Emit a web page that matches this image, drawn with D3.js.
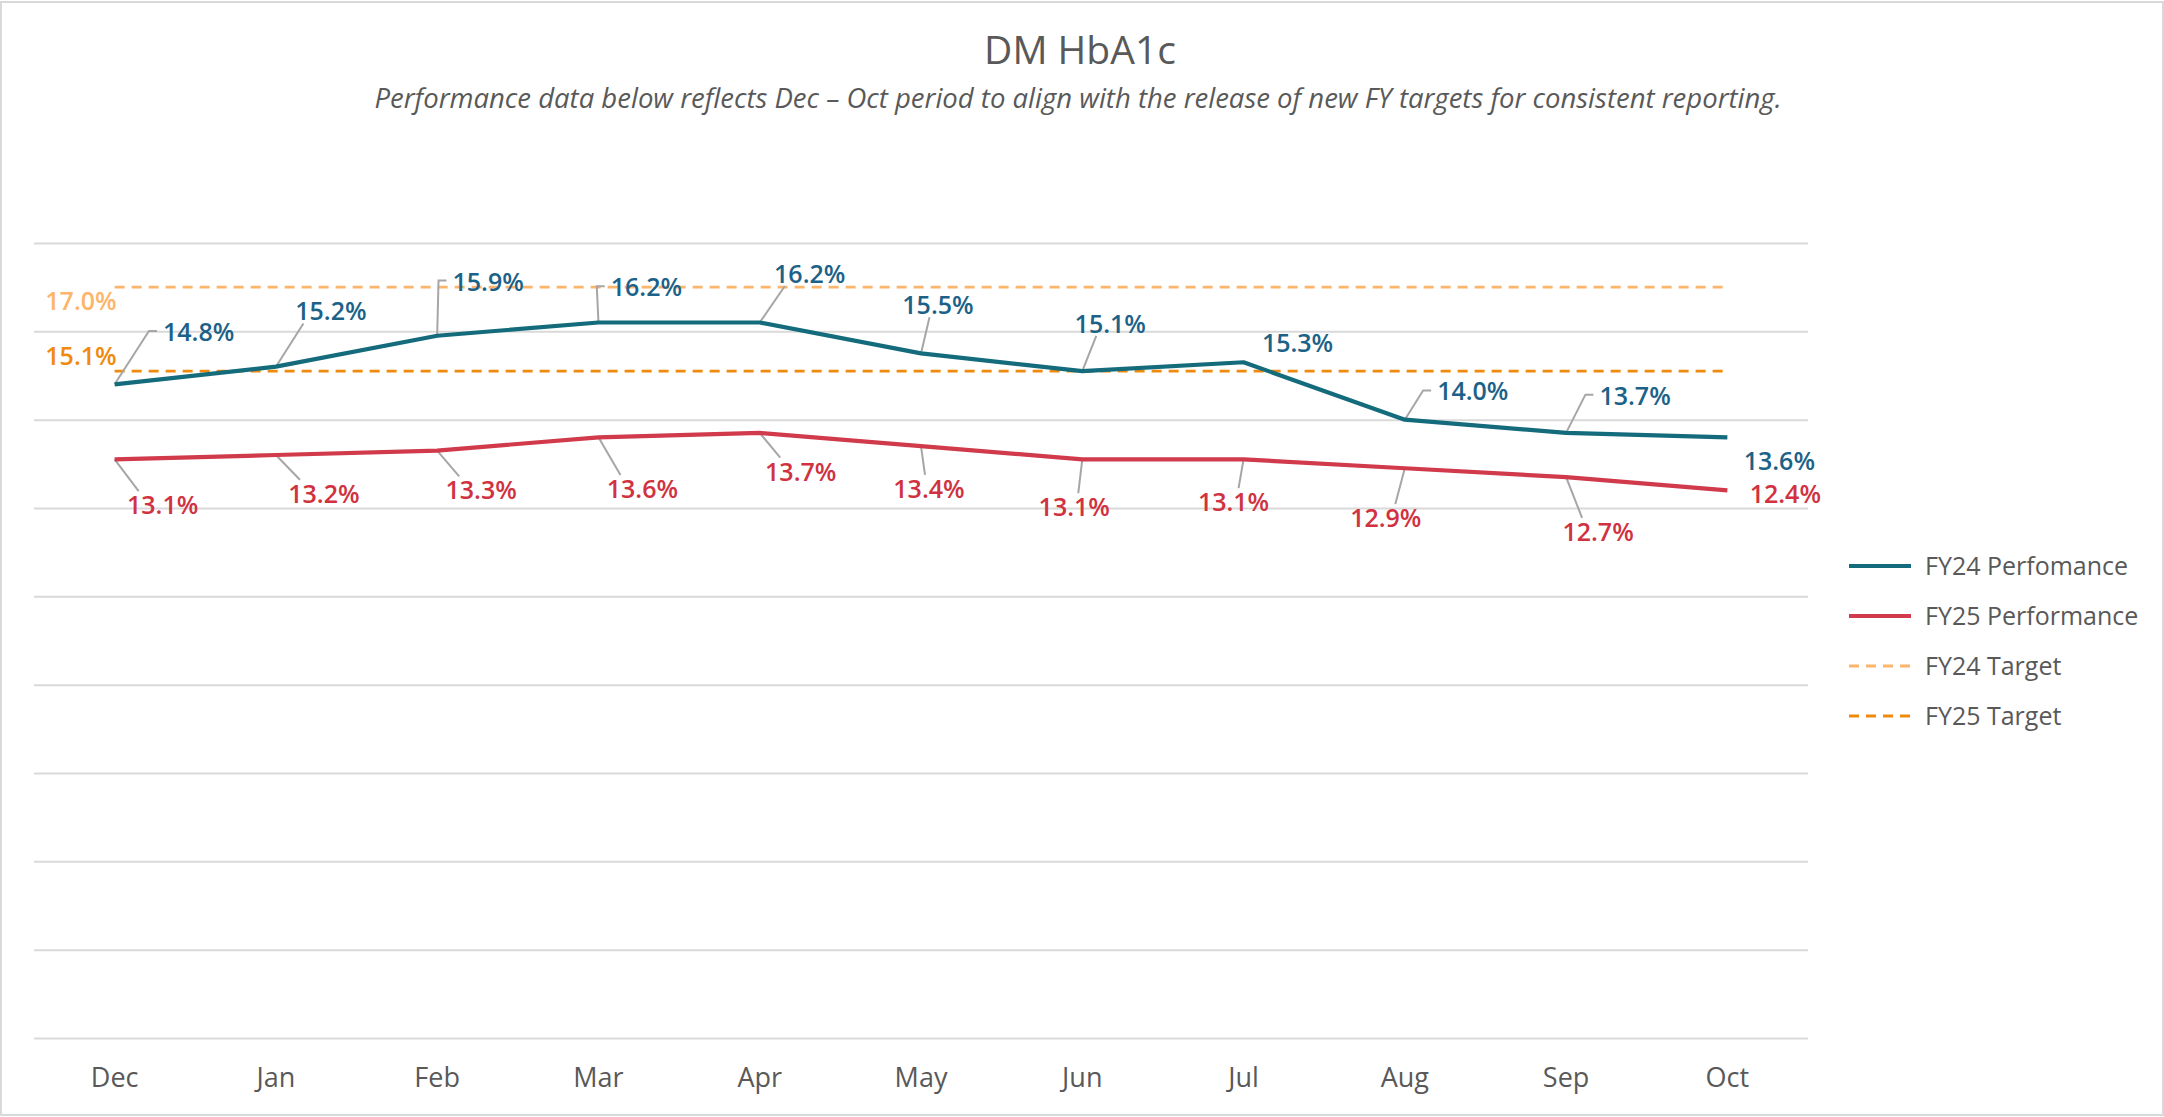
<!DOCTYPE html>
<html>
<head>
<meta charset="utf-8">
<script src="https://cdn.jsdelivr.net/npm/d3@7"></script>
<style>
  html, body { margin: 0; padding: 0; background: #fff; }
  svg { display: block; font-family: "Open Sans", "Noto Sans", sans-serif; }
</style>
</head>
<body>
<svg id="chart" width="2164" height="1117"></svg>
<script>
// data
const months = ["Dec", "Jan", "Feb", "Mar", "Apr", "May", "Jun", "Jul", "Aug", "Sep", "Oct"];
const fy24Perf = [14.8, 15.2, 15.9, 16.2, 16.2, 15.5, 15.1, 15.3, 14.0, 13.7, 13.6];
const fy25Perf = [13.1, 13.2, 13.3, 13.6, 13.7, 13.4, 13.1, 13.1, 12.9, 12.7, 12.4];
const fy24Target = 17.0;
const fy25Target = 15.1;
const yTicks = [0, 2, 4, 6, 8, 10, 12, 14, 16, 18];

// label placement (offset from point, leader style)
const fy24LabelPos = [
  [84, -52, "elbow"], [55, -55, "line"], [51, -54, "elbow"], [48, -35, "elbow"],
  [50, -48, "line"], [17, -48, "line"], [28, -47, "line"], [54, -19, "none"],
  [68, -28, "elbow"], [69, -37, "elbow"], [52, 24, "none"]
];
const fy25LabelPos = [
  [48, 46, "line"], [48, 39, "line"], [44, 40, "line"], [44, 52, "line"],
  [41, 39, "line"], [8, 43, "line"], [-8, 48, "line"], [-10, 43, "line"],
  [-19, 50, "line"], [32, 55, "line"], [58, 4, "none"]
];

const colors = {
  fy24: "#136b7b", fy24Label: "#1c6288",
  fy25: "#d03a4b", fy25Label: "#d0323f",
  t24: "#fdb56a", t25: "#f08a0c",
  grid: "#d9d9d9", text: "#595959", leader: "#a6a6a6"
};

const svg = d3.select("#chart");
const W = 2164, H = 1117;

// outer frame
svg.append("rect")
  .attr("x", 1).attr("y", 2).attr("width", W - 2).attr("height", H - 4)
  .attr("fill", "#fff").attr("stroke", "#d9d9d9").attr("stroke-width", 2);

const plot = { left: 34, right: 1808, top: 243, bottom: 1038 };

const x = d3.scaleBand().domain(months).range([plot.left, plot.right]);
const cx = (m) => x(m) + x.bandwidth() / 2;
const y = d3.scaleLinear().domain([0, 18]).range([plot.bottom, plot.top]);

// title
svg.append("text")
  .attr("x", 1080).attr("y", 64)
  .attr("text-anchor", "middle")
  .attr("font-size", 39).attr("fill", colors.text)
  .text("DM HbA1c");
svg.append("text")
  .attr("x", 1078).attr("y", 108)
  .attr("text-anchor", "middle")
  .attr("font-size", 27.5).attr("font-style", "italic").attr("fill", colors.text)
  .text("Performance data below reflects Dec \u2013 Oct period to align with the release of new FY targets for consistent reporting.");

// gridlines
const grid = svg.append("g")
  .attr("transform", `translate(${plot.left},0)`)
  .call(d3.axisLeft(y).tickValues(yTicks).tickSize(-(plot.right - plot.left)).tickFormat(""));
grid.select(".domain").remove();
grid.selectAll(".tick line").attr("stroke", colors.grid).attr("stroke-width", 2);

// x axis
const xAxis = svg.append("g")
  .attr("transform", `translate(0,${plot.bottom})`)
  .call(d3.axisBottom(x).tickSize(0).tickPadding(30));
xAxis.select(".domain").remove();
xAxis.selectAll("text")
  .attr("font-size", 27).attr("fill", colors.text)
  .attr("font-family", "'Open Sans', sans-serif");

// target lines
const targets = [
  { v: fy24Target, color: colors.t24, dy: 23 },
  { v: fy25Target, color: colors.t25, dy: -6 }
];
svg.selectAll(".target")
  .data(targets)
  .join("line")
  .attr("class", "target")
  .attr("x1", cx(months[0])).attr("x2", cx(months[months.length - 1]))
  .attr("y1", (d) => y(d.v)).attr("y2", (d) => y(d.v))
  .attr("stroke", (d) => d.color)
  .attr("stroke-width", 2.8)
  .attr("stroke-dasharray", "10,7");

svg.selectAll(".target-label")
  .data(targets)
  .join("text")
  .attr("class", "target-label")
  .attr("x", cx(months[0]) + 2)
  .attr("y", (d) => y(d.v) + d.dy)
  .attr("text-anchor", "end")
  .attr("font-size", 25).attr("font-weight", 600)
  .attr("fill", (d) => d.color)
  .text((d) => d.v.toFixed(1) + "%");

// series
const series = [
  { name: "FY24 Perfomance", values: fy24Perf, color: colors.fy24, labelColor: colors.fy24Label, pos: fy24LabelPos },
  { name: "FY25 Performance", values: fy25Perf, color: colors.fy25, labelColor: colors.fy25Label, pos: fy25LabelPos }
];

const line = d3.line()
  .x((d, i) => cx(months[i]))
  .y((d) => y(d));

const leaderG = svg.append("g").attr("class", "leaders");

series.forEach((s) => {
  svg.append("path")
    .datum(s.values)
    .attr("d", line)
    .attr("fill", "none")
    .attr("stroke", s.color)
    .attr("stroke-width", 4.2)
    .attr("stroke-linejoin", "round");

  const labels = svg.append("g").selectAll("text")
    .data(s.values)
    .join("text")
    .attr("x", (d, i) => cx(months[i]) + s.pos[i][0])
    .attr("y", (d, i) => y(d) + s.pos[i][1])
    .attr("dy", "0.35em")
    .attr("text-anchor", "middle")
    .attr("font-size", 25).attr("font-weight", 600)
    .attr("fill", s.labelColor)
    .text((d) => d.toFixed(1) + "%");

  // leader lines
  labels.each(function (d, i) {
    const type = s.pos[i][2];
    if (type === "none") return;
    const b = this.getBBox();
    const px = cx(months[i]), py = y(d);
    const left = b.x - 4;
    const top = b.y + 4, bottom = b.y + b.height - 4;
    let pts;
    if (type === "elbow") {
      const my = (top + bottom) / 2;
      pts = [[px, py], [left - 10, my], [left - 2, my]];
    } else {
      const lx = b.x + b.width / 2;
      const ex = px + (lx - px) * 0.5;
      const ey = py < top ? top : bottom;
      pts = [[px, py], [ex, ey]];
    }
    leaderG.append("path")
      .attr("d", d3.line()(pts))
      .attr("fill", "none")
      .attr("stroke", colors.leader)
      .attr("stroke-width", 2);
  });
});

// legend
const legendItems = [
  { name: "FY24 Perfomance", color: colors.fy24, dash: null, w: 4.2 },
  { name: "FY25 Performance", color: colors.fy25, dash: null, w: 4.2 },
  { name: "FY24 Target", color: colors.t24, dash: "10,7", w: 2.8 },
  { name: "FY25 Target", color: colors.t25, dash: "10,7", w: 2.8 }
];
const legend = svg.append("g").attr("transform", "translate(1849,566)");
const li = legend.selectAll("g")
  .data(legendItems)
  .join("g")
  .attr("transform", (d, i) => `translate(0,${i * 50})`);
li.append("line")
  .attr("x1", 0).attr("x2", 62)
  .attr("stroke", (d) => d.color)
  .attr("stroke-width", (d) => d.w)
  .attr("stroke-dasharray", (d) => d.dash);
li.append("text")
  .attr("x", 76).attr("dy", "0.35em")
  .attr("font-size", 25).attr("fill", colors.text)
  .text((d) => d.name);
</script>
</body>
</html>
